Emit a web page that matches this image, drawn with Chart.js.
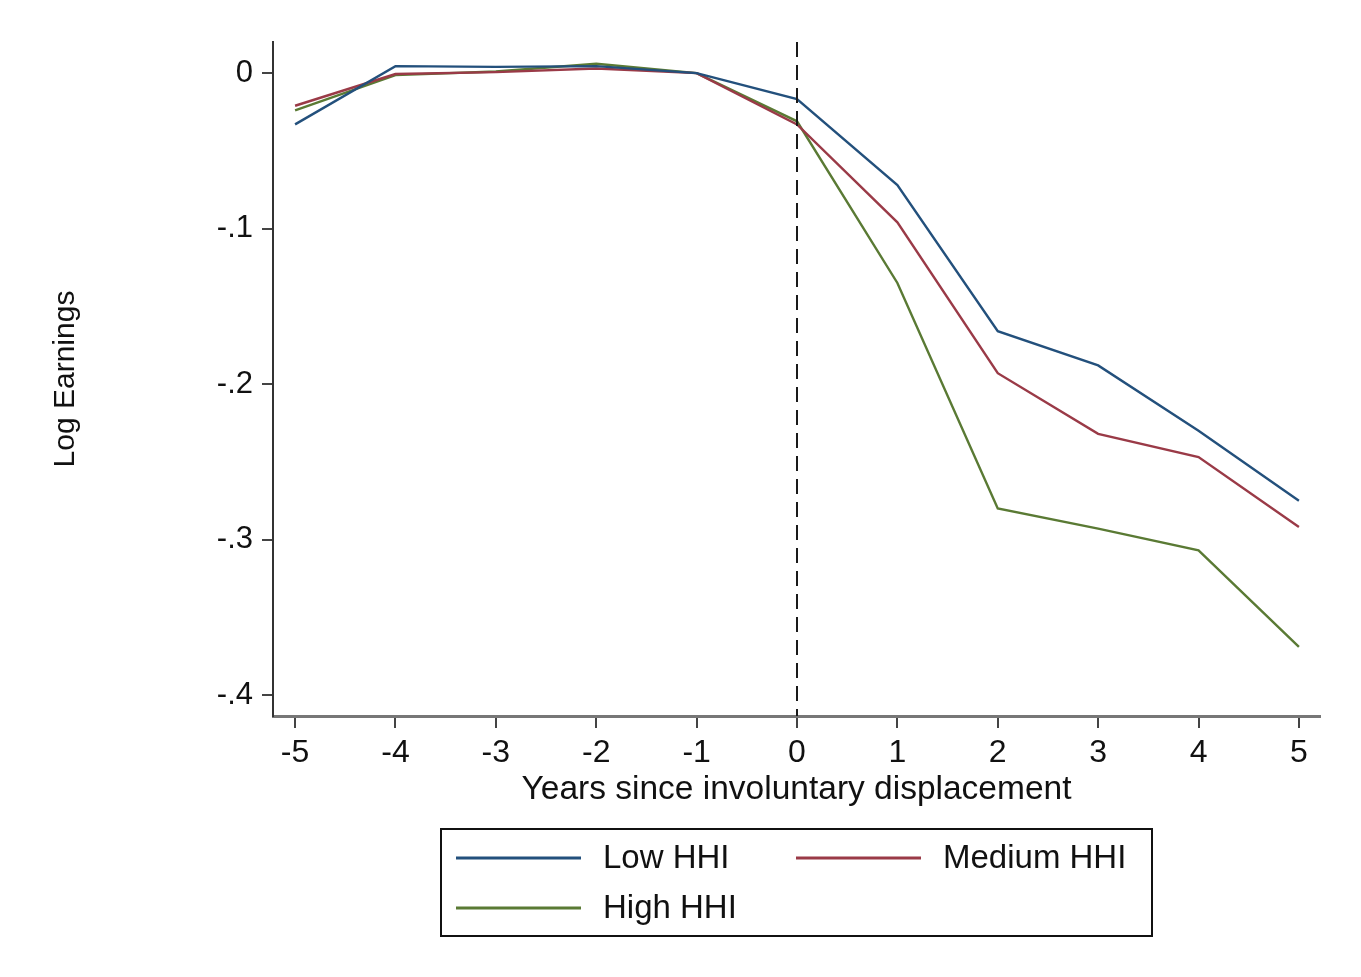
<!DOCTYPE html>
<html>
<head>
<meta charset="utf-8">
<title>Log Earnings by HHI</title>
<script src="https://cdn.jsdelivr.net/npm/chart.js@4.4.1/dist/chart.umd.min.js"></script>
<style>
    html, body { margin: 0; padding: 0; background: #fff; }
    #wrap { width: 1361px; height: 977px; position: relative; }
</style>
</head>
<body>
<div id="wrap"><canvas id="chart" width="1361" height="977"></canvas></div>
<script>
    'use strict';

    // --- Data ---
    const years = [-5, -4, -3, -2, -1, 0, 1, 2, 3, 4, 5];
    const lowHHI = [-0.033, 0.0045, 0.004, 0.0045, 0, -0.0167, -0.072, -0.166, -0.188, -0.230, -0.275];
    const mediumHHI = [-0.021, -0.0006, 0.0006, 0.003, 0, -0.033, -0.096, -0.193, -0.232, -0.247, -0.292];
    const highHHI = [-0.024, -0.0013, 0.001, 0.006, 0, -0.031, -0.135, -0.280, -0.293, -0.307, -0.369];

    const xTicks = [-5, -4, -3, -2, -1, 0, 1, 2, 3, 4, 5];
    const yTicks = [0, -0.1, -0.2, -0.3, -0.4];
    const seriesLabels = ['Low HHI', 'Medium HHI', 'High HHI'];
    const eventYear = 0;

    const FONT = '"Liberation Sans", Arial, Helvetica, sans-serif';
    const colors = ['#23507c', '#9a3a47', '#5a7a34'];

    // pair years with a series for the linear x scale
    const toPoints = (vals) => vals.map((v, i) => ({ x: years[i], y: v }));

    // Stata-style tick label: -0.1 -> "-.1"
    const stataNum = (v) => {
        if (v === 0) return '0';
        return String(Math.round(v * 10) / 10).replace('0.', '.');
    };

    // white background
    const bgPlugin = {
        id: 'bg',
        beforeDraw: (chart) => {
            const ctx = chart.ctx;
            ctx.save();
            ctx.fillStyle = '#fff';
            ctx.fillRect(0, 0, chart.width, chart.height);
            ctx.restore();
        }
    };

    // dashed vertical line at the displacement year
    const eventLine = {
        id: 'eventLine',
        afterDatasetsDraw: (chart) => {
            const { ctx, chartArea, scales } = chart;
            const px = scales.x.getPixelForValue(eventYear);
            ctx.save();
            ctx.strokeStyle = '#1a1a1a';
            ctx.lineWidth = 2;
            ctx.setLineDash([15, 8]);
            ctx.beginPath();
            ctx.moveTo(px, chartArea.top);
            ctx.lineTo(px, chartArea.bottom);
            ctx.stroke();
            ctx.restore();
        }
    };

    // boxed legend below the axis title, two columns like Stata
    const boxLegend = {
        id: 'boxLegend',
        afterDraw: (chart) => {
            const ctx = chart.ctx;
            const box = { x: 441, y: 829, w: 711, h: 107 };
            const slots = [
                { x: 456, y: 858 },
                { x: 796, y: 858 },
                { x: 456, y: 908 }
            ];
            ctx.save();
            ctx.strokeStyle = '#111';
            ctx.lineWidth = 2;
            ctx.strokeRect(box.x, box.y, box.w, box.h);
            ctx.font = '33px ' + FONT;
            ctx.textBaseline = 'middle';
            ctx.fillStyle = '#111';
            chart.data.datasets.forEach((ds, i) => {
                const s = slots[i];
                ctx.strokeStyle = ds.borderColor;
                ctx.lineWidth = 3;
                ctx.beginPath();
                ctx.moveTo(s.x, s.y);
                ctx.lineTo(s.x + 125, s.y);
                ctx.stroke();
                ctx.fillText(ds.label, s.x + 147, s.y + 1);
            });
            ctx.restore();
        }
    };

    const datasets = [lowHHI, mediumHHI, highHHI].map((vals, i) => ({
        label: seriesLabels[i],
        data: toPoints(vals),
        borderColor: colors[i],
        backgroundColor: colors[i],
        borderWidth: 2.4,
        pointRadius: 0,
        tension: 0,
        fill: false
    }));

    new Chart(document.getElementById('chart').getContext('2d'), {
        type: 'line',
        data: { datasets: datasets },
        options: {
            responsive: false,
            animation: false,
            layout: { padding: { left: 0, top: 42, right: 41, bottom: 0 } },
            plugins: {
                legend: { display: false },
                tooltip: { enabled: false }
            },
            scales: {
                x: {
                    type: 'linear',
                    min: -5.22,
                    max: 5.21,
                    afterBuildTicks: (scale) => { scale.ticks = xTicks.map(v => ({ value: v })); },
                    afterFit: (scale) => { scale.height = 261; },
                    border: { display: true, color: '#777', width: 3 },
                    grid: { display: true, drawOnChartArea: false, drawTicks: true, tickLength: 12, color: '#444', lineWidth: 2 },
                    ticks: {
                        color: '#111',
                        padding: 6,
                        maxRotation: 0,
                        font: { family: FONT, size: 32 },
                        callback: (v) => String(v)
                    },
                    title: {
                        display: true,
                        text: 'Years since involuntary displacement',
                        color: '#111',
                        font: { family: FONT, size: 33.5 },
                        padding: { top: 0, bottom: 167 }
                    }
                },
                y: {
                    type: 'linear',
                    min: -0.4135,
                    max: 0.02,
                    afterBuildTicks: (scale) => { scale.ticks = yTicks.map(v => ({ value: v })); },
                    afterFit: (scale) => { scale.width = 273; },
                    border: { display: true, color: '#333', width: 2 },
                    grid: { display: true, drawOnChartArea: false, drawTicks: true, tickLength: 11, color: '#444', lineWidth: 2 },
                    ticks: {
                        color: '#111',
                        padding: 9,
                        font: { family: FONT, size: 31 },
                        callback: (v) => stataNum(v)
                    },
                    title: {
                        display: true,
                        text: 'Log Earnings',
                        color: '#111',
                        font: { family: FONT, size: 30 },
                        padding: { top: 48, bottom: 0 }
                    }
                }
            }
        },
        plugins: [bgPlugin, eventLine, boxLegend]
    });
</script>
</body>
</html>
